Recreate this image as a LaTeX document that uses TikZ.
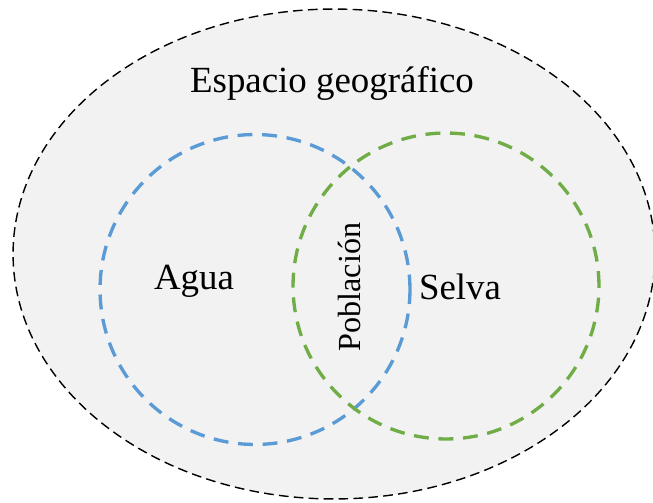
\documentclass[tikz,border=0pt]{standalone}
\usepackage{fontspec}
\setmainfont{Liberation Serif}
\usepackage{xcolor}
\usepackage{tikz}
\usetikzlibrary{shapes,calc}
\definecolor{cBlue}{HTML}{5B9BD5}
\definecolor{cGreen}{HTML}{70AD47}
\definecolor{cFill}{HTML}{F2F2F2}
\tikzstyle{tsLabel} = [
    text=black,
    font=\fontsize{21}{25}\selectfont,
    inner sep=0pt
]
\tikzstyle{tsEspacio} = [
    ellipse,
    draw=black,
    fill=cFill,
    line width=0.8pt,
    dash pattern=on 5.5pt off 3pt,
    inner sep=0pt
]
\tikzstyle{tsSet} = [
    circle,
    line width=1.9pt,
    dash pattern=on 8.5pt off 5.5pt,
    inner sep=0pt
]

\begin{document}
\begin{tikzpicture}[x=0.02cm, y=-0.02cm]

        \useasboundingbox (0,0) rectangle (653,503);

        \node[  tsEspacio,
                minimum width=12.84cm,
                minimum height=9.8cm] (espacio) at (334,254) { };

        \node[tsSet, draw=cBlue, minimum size=6.2cm] (agua) at (255,289.5) { };
        \node[tsSet, draw=cGreen, minimum size=6.12cm] (selva) at (446,286) { };

        \node[tsLabel] (tEspacio) at (332,83) {Espacio geográfico};
        \node[tsLabel] (tAgua) at (194,281) {Agua};
        \node[tsLabel] (tSelva) at (460,287) {Selva};
        \node[tsLabel, font=\fontsize{18.3}{22}\selectfont,
              rotate=90] (tPoblacion) at (349,287) {Población};

\end{tikzpicture}
\end{document}
